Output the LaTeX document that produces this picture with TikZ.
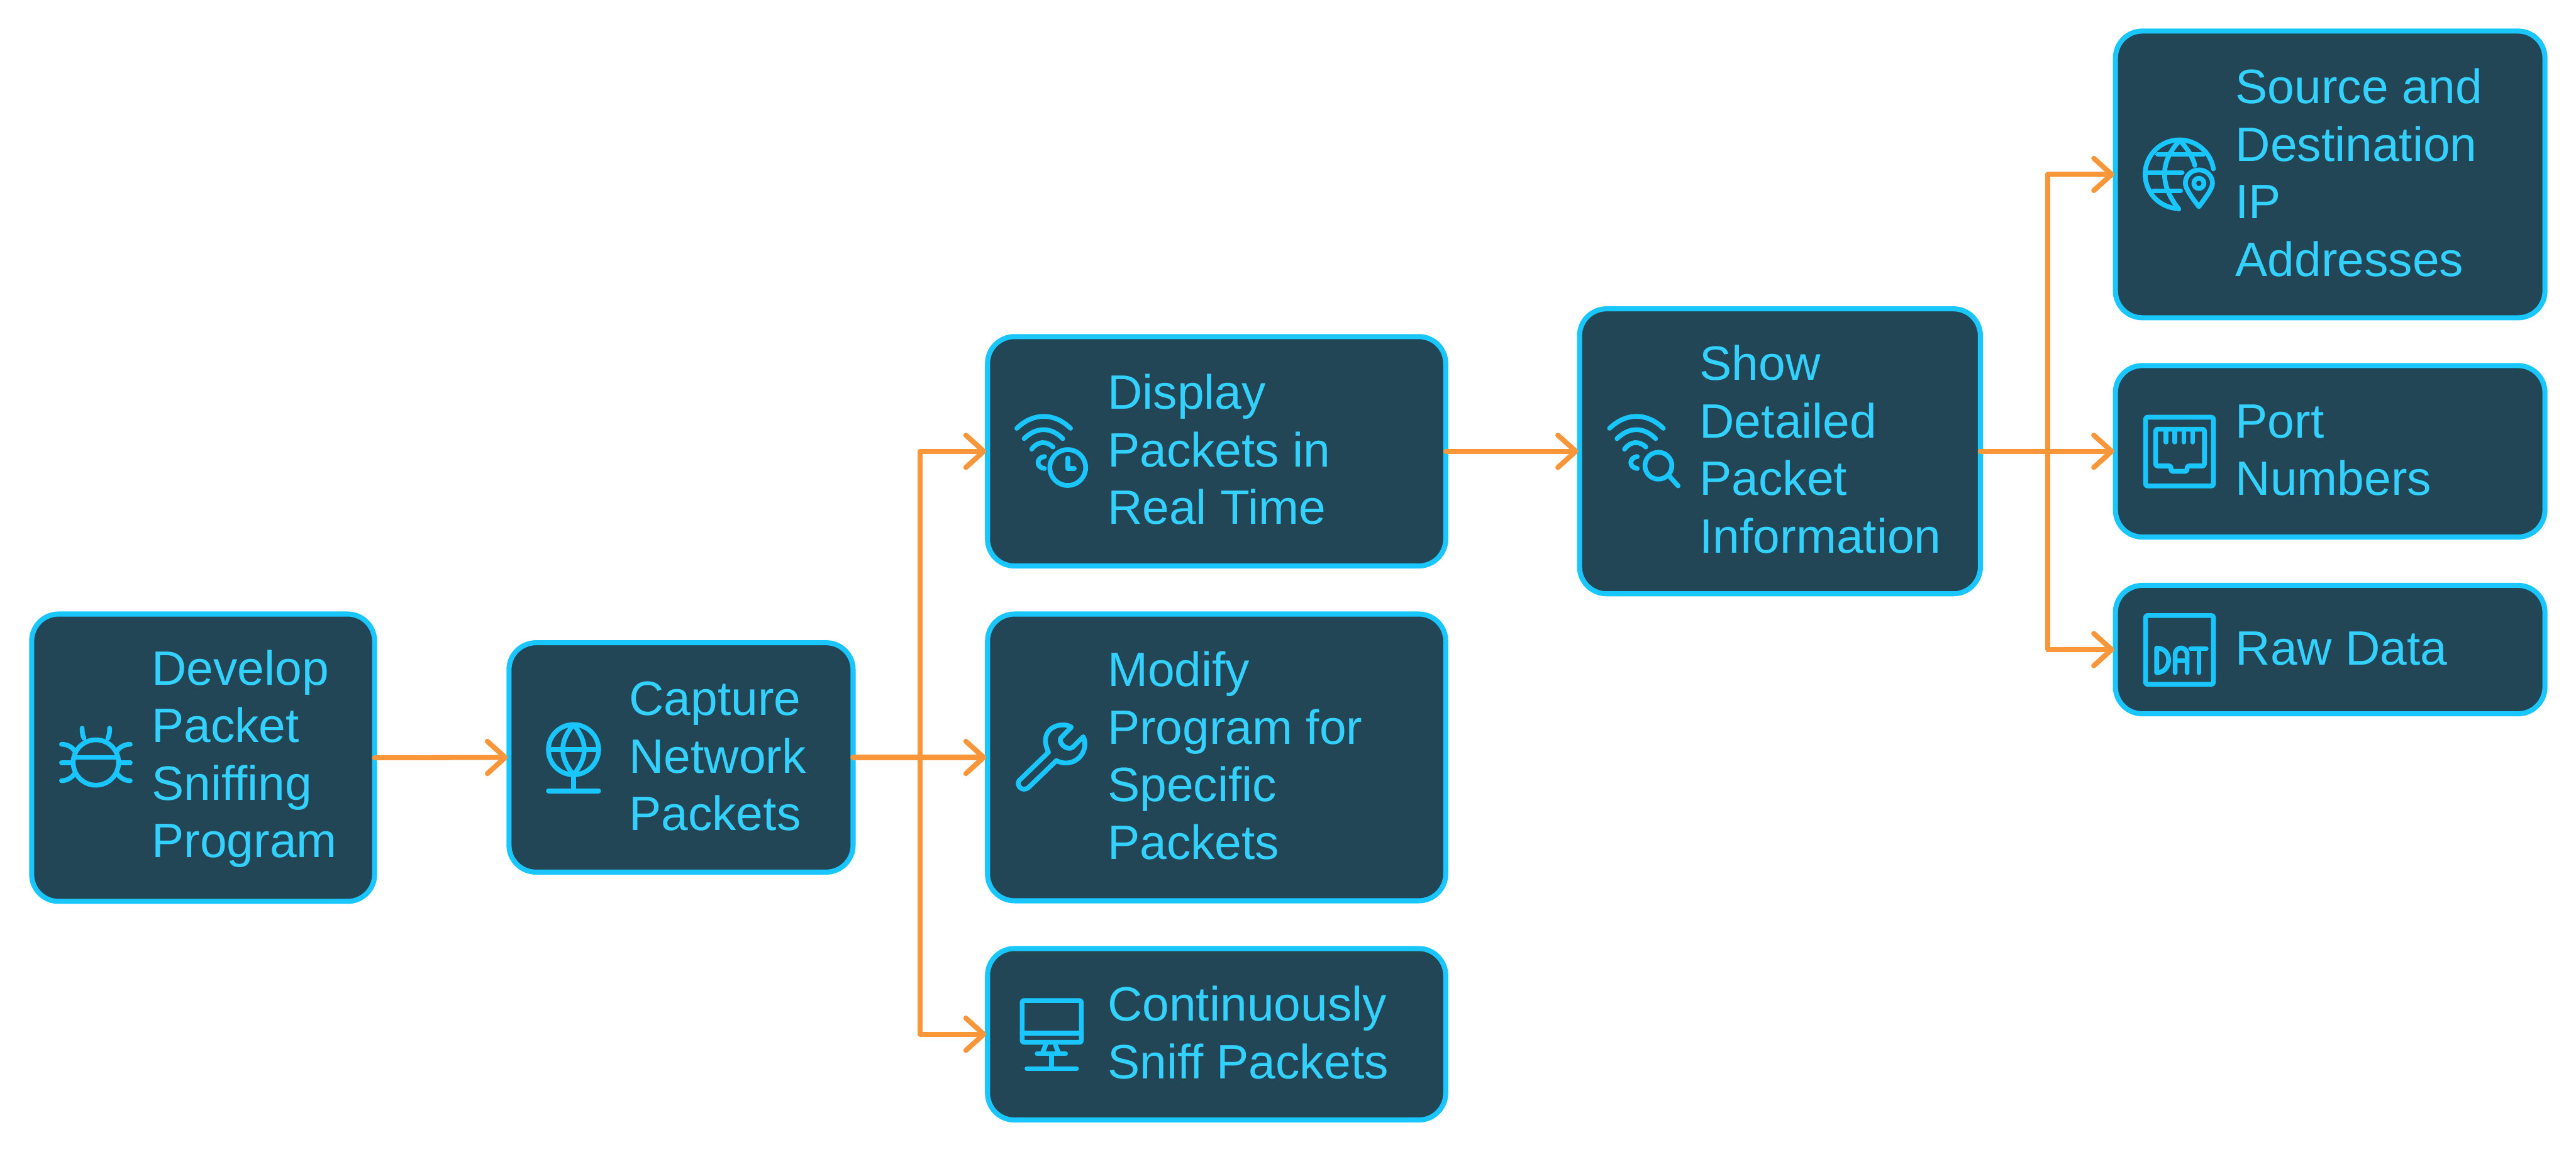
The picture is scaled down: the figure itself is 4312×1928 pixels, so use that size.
\documentclass[tikz,border=0pt]{standalone}
\usepackage{xcolor}
\usepackage{fontspec}
\setmainfont{Liberation Sans}
\usetikzlibrary{arrows.meta}
\definecolor{pktfill}{HTML}{224655}
\definecolor{pktborder}{HTML}{1AC6FF}
\definecolor{pkttext}{HTML}{33D1FF}
\definecolor{pktorange}{HTML}{F89639}
\newcommand{\pktstrut}{\rule[-1mm]{0pt}{7.16mm}}
\tikzset{
  pktbox/.style={draw=pktborder, fill=pktfill, line width=0.85mm, rounded corners=4.5mm, outer sep=0pt, inner sep=0pt},
  pktlabel/.style={anchor=west, text=pkttext, align=left, inner sep=0pt, outer sep=0pt,
    font=\fontsize{23}{27.4}\selectfont},
  pkticon/.style={draw=pktborder, line width=0.8mm, line cap=round, line join=round},
  flow/.style={draw=pktorange, line width=0.85mm, line join=round, line cap=round, shorten >=0.2mm,
    -{Straight Barb[length=3mm,width=5.4mm,line width=0.85mm,round]}},
}
\newcommand{\wifiarcs}{%
  \draw[pkticon] (1702,717) .. controls (1730,690.3) and (1764,690.3) .. (1792,717);
  \draw[pkticon] (1714.3,734.3) .. controls (1735,714.3) and (1759,714.3) .. (1779,734.3);
  \draw[pkticon] (1727,752) .. controls (1737,738) and (1752,738) .. (1762.7,748.3);
  \draw[pkticon] (1748.3,764.3) .. controls (1734,766) and (1734,783) .. (1748.3,784.3);
}
\begin{document}
\begin{tikzpicture}[x=0.1mm, y=-0.1mm]
  \useasboundingbox (0,0) rectangle (4312,1928);

  \node[pktbox, minimum width=57.4mm, minimum height=48.1mm] (develop) at (340,1268.5) {};
  \node[pktbox, minimum width=57.6mm, minimum height=38.4mm] (capture) at (1140,1268) {};
  \node[pktbox, minimum width=76.7mm, minimum height=38.4mm] (display) at (2036.5,755.5) {};
  \node[pktbox, minimum width=76.7mm, minimum height=48mm] (modify) at (2036.5,1268) {};
  \node[pktbox, minimum width=76.7mm, minimum height=28.7mm] (sniff) at (2036.5,1731.5) {};
  \node[pktbox, minimum width=67.1mm, minimum height=47.7mm] (show) at (2979.5,755.5) {};
  \node[pktbox, minimum width=71.9mm, minimum height=48mm] (source) at (3900.5,292) {};
  \node[pktbox, minimum width=71.9mm, minimum height=28.7mm] (port) at (3900.5,755.5) {};
  \node[pktbox, minimum width=71.9mm, minimum height=21.5mm] (rawdata) at (3900.5,1087.5) {};

  \node[pktlabel] (developtxt) at ([xshift=20.1mm]develop.west) {\pktstrut Develop\\Packet\\Sniffing\\\pktstrut Program};
  \node[pktlabel] (capturetxt) at ([xshift=20.1mm]capture.west) {\pktstrut Capture\\Network\\\pktstrut Packets};
  \node[pktlabel] (displaytxt) at ([xshift=20.1mm]display.west) {\pktstrut Display\\Packets in\\\pktstrut Real Time};
  \node[pktlabel] (modifytxt) at ([xshift=20.1mm]modify.west) {\pktstrut Modify\\Program for\\Specific\\\pktstrut Packets};
  \node[pktlabel] (snifftxt) at ([xshift=20.1mm]sniff.west) {\pktstrut Continuously\\\pktstrut Sniff Packets};
  \node[pktlabel] (showtxt) at ([xshift=20.1mm]show.west) {\pktstrut Show\\Detailed\\Packet\\\pktstrut Information};
  \node[pktlabel] (sourcetxt) at ([xshift=20.1mm]source.west) {\pktstrut Source and\\Destination\\IP\\\pktstrut Addresses};
  \node[pktlabel] (porttxt) at ([xshift=20.1mm]port.west) {\pktstrut Port\\\pktstrut Numbers};
  \node[pktlabel] (rawdatatxt) at ([xshift=20.1mm]rawdata.west) {\pktstrut Raw Data};

  \coordinate (capturebus) at (1540,1268);
  \coordinate (showbus) at (3428,755.5);
  \draw[flow] (develop.east) -- (capture.west);
  \draw[flow] (capture.east) -- (capturebus) |- (display.west);
  \draw[flow] (capture.east) -- (modify.west);
  \draw[flow] (capture.east) -- (capturebus) |- (sniff.west);
  \draw[flow] (display.east) -- (show.west);
  \draw[flow] (show.east) -- (showbus) |- (source.west);
  \draw[flow] (show.east) -- (port.west);
  \draw[flow] (show.east) -- (showbus) |- (rawdata.west);

  % bug
  \draw[pkticon] (160.5,1276.5) circle (38);
  \draw[pkticon] (125,1268) -- (196,1268);
  \draw[pkticon] (103,1277) -- (120,1277) (201,1277) -- (218,1277);
  \draw[pkticon] (103,1246) .. controls (112,1246) and (120,1250) .. (125,1257);
  \draw[pkticon] (218,1246) .. controls (209,1246) and (201,1250) .. (196,1257);
  \draw[pkticon] (103,1307) .. controls (112,1307) and (120,1302) .. (124,1296);
  \draw[pkticon] (218,1307) .. controls (209,1307) and (201,1302) .. (197,1296);
  \draw[pkticon] (140.6,1236) .. controls (138,1231) and (137.5,1225) .. (137.5,1219);
  \draw[pkticon] (180.4,1236) .. controls (183,1231) and (183.5,1225) .. (183.5,1219);

  % globe on a stand
  \draw[pkticon] (960,1255) circle (42);
  \draw[pkticon] (918,1255) -- (1002,1255);
  \draw[pkticon] (960,1213) .. controls (936,1242) and (936,1268) .. (960,1297) .. controls (984,1268) and (984,1242) .. (960,1213);
  \draw[pkticon] (960,1297) -- (960,1324);
  \draw[pkticon] (918,1324) -- (1002,1324);

  % wifi and clock
  \wifiarcs
  \draw[pkticon] (1787.3,782.7) circle (30);
  \draw[pkticon] (1787.3,766.7) -- (1787.3,784.3) -- (1798.3,784.3);

  % wrench
  \begin{scope}[shift={(1690,1190)}, scale=1/3]
    \draw[pkticon] (310,82) .. controls (270,55) and (180,75) .. (180,150) .. controls (180,170) and (187,190) .. (195,208)
      -- (48,350) .. controls (30,375) and (65,410) .. (95,385) -- (235,250)
      .. controls (300,285) and (378,240) .. (378,165) .. controls (378,150) and (375,140) .. (370,130)
      -- (318,182) .. controls (290,205) and (240,160) .. (258,135) -- cycle;
  \end{scope}

  % monitor
  \draw[pkticon, rounded corners=0.3mm] (1711,1675) rectangle (1810,1745);
  \draw[pkticon] (1711,1729.5) -- (1810,1729.5);
  \draw[pkticon] (1750.4,1749) -- (1745,1763) (1766.5,1749) -- (1772,1763);
  \draw[pkticon] (1736,1764) -- (1783.7,1764);
  \draw[pkticon] (1760,1764) -- (1760,1789);
  \draw[pkticon] (1719,1789) -- (1802,1789);

  % wifi and magnifier
  \begin{scope}[shift={(992.3,0)}]
    \wifiarcs
  \end{scope}
  \draw[pkticon] (2776,779.6) circle (22.5);
  \draw[pkticon] (2793.9,796.8) -- (2809,813.4);

  % globe with pin
  \draw[pkticon] (3705,282.7) arc[start angle=-9, end angle=-267, radius=57.5];
  \draw[pkticon] (3611.7,258.3) -- (3688,258.3);
  \draw[pkticon] (3592,289) -- (3652.7,289);
  \draw[pkticon] (3605,319.3) -- (3650,319.3);
  \draw[pkticon] (3649,235) .. controls (3615,270) and (3615,310) .. (3647,350);
  \draw[pkticon] (3649,235) .. controls (3662,250) and (3670,262) .. (3674,277);
  \draw[pkticon] (3680.7,346) .. controls (3670,332) and (3658,316) .. (3658,307) .. controls (3658,294) and (3668,284.5) .. (3680.7,284.5)
    .. controls (3693,284.5) and (3703.5,294) .. (3703.5,307) .. controls (3703.5,316) and (3691,332) .. cycle;
  \draw[pkticon] (3680.7,307) circle (8.5);

  % port
  \draw[pkticon, rounded corners=0.3mm] (3591.5,698.5) rectangle (3705,813.5);
  \draw[pkticon, rounded corners=0.3mm] (3608.4,718.6) -- (3690,718.6) -- (3690,780) -- (3661,780) -- (3661,789) -- (3634,789) -- (3634,780) -- (3608.4,780) -- cycle;
  \foreach \pinx in {3625.6,3640.5,3655.5,3670.4}
    \draw[pkticon] (\pinx,718.6) -- (\pinx,740);

  % data file
  \draw[pkticon, rounded corners=0.3mm] (3591.5,1030.5) rectangle (3705,1145.5);
  \draw[pkticon] (3610,1085) -- (3610,1126) .. controls (3624,1126) and (3630,1115) .. (3630,1105) .. controls (3630,1095) and (3624,1085) .. (3610,1085) -- cycle;
  \draw[pkticon] (3641,1126) -- (3641,1096) .. controls (3641,1081) and (3661,1081) .. (3661,1096) -- (3661,1126);
  \draw[pkticon] (3641,1106) -- (3661,1106);
  \draw[pkticon] (3667,1086) -- (3693,1086);
  \draw[pkticon] (3681,1086) -- (3681,1126);
\end{tikzpicture}
\end{document}
